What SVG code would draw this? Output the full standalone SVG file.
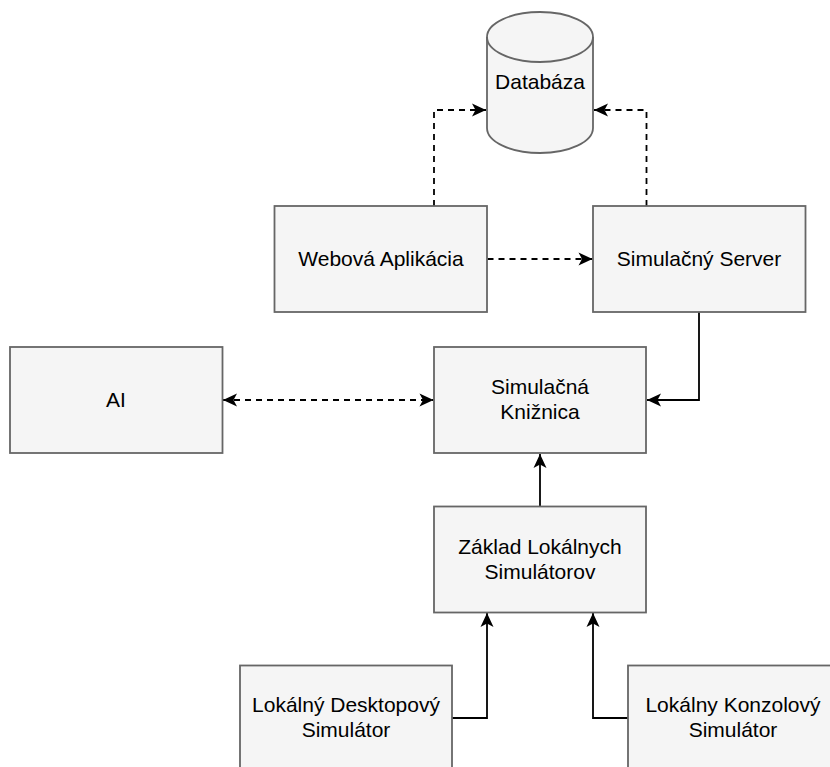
<svg xmlns="http://www.w3.org/2000/svg" width="830" height="767" viewBox="0 0 830 767">
  <style>
    .box { fill: #f5f5f5; stroke: #666666; stroke-width: 1.8; }
    .lbl { font-family: "Liberation Sans", Arial, Helvetica, sans-serif; font-size: 21px; fill: #000000; text-anchor: middle; }
    .edge { fill: none; stroke: #000000; stroke-width: 1.8; }
    .dash { stroke-dasharray: 6 5; }
  </style>
  <defs>
    <marker id="arrow" markerUnits="userSpaceOnUse" markerWidth="16" markerHeight="16" viewBox="-15 -8 16 16" refX="0" refY="0" orient="auto-start-reverse">
      <path d="M0,0 L-14,-6.5 L-10.5,0 L-14,6.5 Z" fill="#000000" stroke="none"/>
    </marker>
  </defs>
  <rect width="830" height="767" fill="#ffffff"/>

  <g id="connectors">
    <!-- web app -> database -->
    <path class="edge dash" d="M434,206 L434,110 L486,110" marker-end="url(#arrow)"/>
    <!-- simulation server -> database -->
    <path class="edge dash" d="M646.5,206 L646.5,110 L594,110" marker-end="url(#arrow)"/>
    <!-- web app -> simulation server -->
    <path class="edge dash" d="M487.5,259 L592.5,259" marker-end="url(#arrow)"/>
    <!-- AI <-> library -->
    <path class="edge dash" d="M223,400 L433.5,400" marker-start="url(#arrow)" marker-end="url(#arrow)"/>
    <!-- simulation server -> library -->
    <path class="edge" d="M699,312 L699,400 L647,400" marker-end="url(#arrow)"/>
    <!-- local base -> library -->
    <path class="edge" d="M540,506.5 L540,454" marker-end="url(#arrow)"/>
    <!-- desktop simulator -> local base -->
    <path class="edge" d="M452,718 L487,718 L487,613" marker-end="url(#arrow)"/>
    <!-- console simulator -> local base -->
    <path class="edge" d="M628,718 L593,718 L593,613" marker-end="url(#arrow)"/>
  </g>

  <g id="databaza">
    <path class="box" d="M487,37 A53,25 0 0 1 593,37 L593,128 A53,25 0 0 1 487,128 Z"/>
    <path class="box" style="fill:none" d="M487,37 A53,25 0 0 0 593,37"/>
    <text class="lbl" x="540" y="89">Databáza</text>
  </g>

  <g id="webova-aplikacia">
    <rect class="box" x="274.5" y="206" width="212.5" height="106"/>
    <text class="lbl" x="381" y="266">Webová Aplikácia</text>
  </g>

  <g id="simulacny-server">
    <rect class="box" x="593" y="206" width="212.5" height="106"/>
    <text class="lbl" x="699" y="266">Simulačný Server</text>
  </g>

  <g id="ai">
    <rect class="box" x="10" y="347" width="212.5" height="106"/>
    <text class="lbl" x="116" y="407">AI</text>
  </g>

  <g id="simulacna-kniznica">
    <rect class="box" x="434" y="347" width="212" height="106"/>
    <text class="lbl" x="540" y="394">Simulačná</text>
    <text class="lbl" x="540" y="419">Knižnica</text>
  </g>

  <g id="zaklad-lokalnych-simulatorov">
    <rect class="box" x="434" y="506.5" width="212" height="106"/>
    <text class="lbl" x="540" y="553.5">Základ Lokálnych</text>
    <text class="lbl" x="540" y="578.5">Simulátorov</text>
  </g>

  <g id="lokalny-desktopovy-simulator">
    <rect class="box" x="240" y="665.5" width="212" height="106"/>
    <text class="lbl" x="346" y="712">Lokálný Desktopový</text>
    <text class="lbl" x="346" y="737">Simulátor</text>
  </g>

  <g id="lokalny-konzolovy-simulator">
    <rect class="box" x="628" y="665.5" width="212" height="106"/>
    <text class="lbl" x="733" y="712">Lokálny Konzolový</text>
    <text class="lbl" x="733" y="737">Simulátor</text>
  </g>
</svg>
